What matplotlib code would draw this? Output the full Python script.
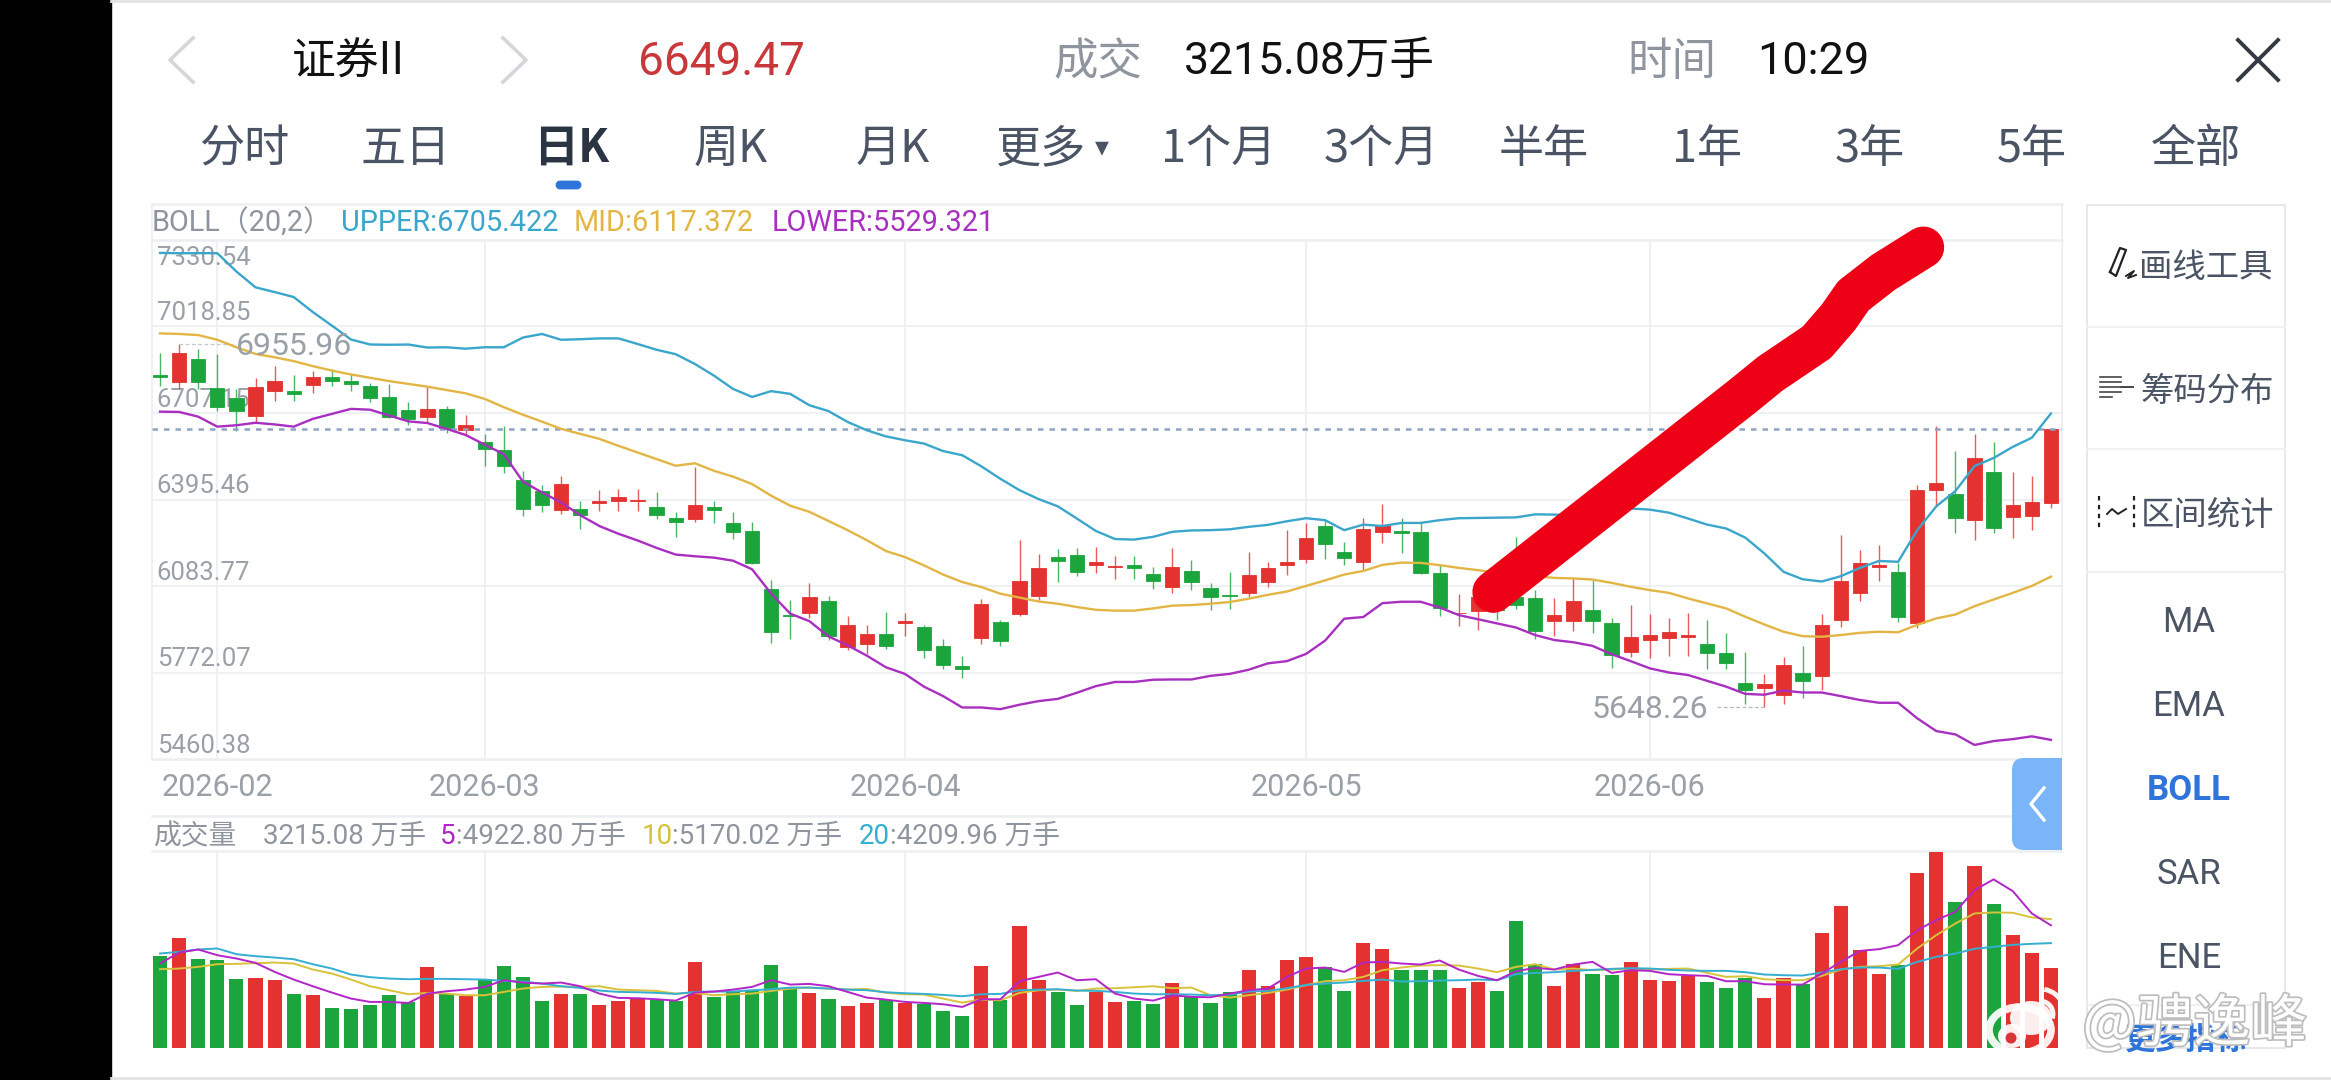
import matplotlib
matplotlib.use('Agg')
import matplotlib.pyplot as plt
import matplotlib.patheffects as pe
from matplotlib.patches import Rectangle, FancyBboxPatch, Ellipse, Arc

plt.rcParams['font.family'] = ['Noto Sans CJK SC', 'DejaVu Sans']

WIDTH, HEIGHT = 2331, 1080

# daily candles, left to right
OPEN = [6844.5, 6820, 6901, 6799, 6763, 6697, 6785, 6788, 6807, 6838,
        6822, 6804, 6766, 6719, 6693, 6723, 6647, 6602, 6575, 6466,
        6425, 6356, 6361, 6384, 6390, 6390, 6367, 6330, 6325, 6367,
        6311, 6283, 6074, 5980, 5986, 6028, 5864, 5874, 5912, 5949,
        5936, 5867, 5797, 5896, 5955, 5984, 6048, 6188, 6194, 6158,
        6151, 6161, 6128, 6079, 6137, 6078, 6050, 6060, 6099, 6160,
        6181, 6300, 6207, 6169, 6280, 6282, 6279, 6131, 5985, 5994,
        6045, 6045, 6040, 5956, 5956, 5999, 5951, 5846, 5890, 5897,
        5901, 5873, 5841, 5733, 5718, 5692, 5772, 5758, 5963, 6058,
        6154, 6133, 5951, 6429, 6417, 6323, 6495, 6332, 6336, 6383]
CLOSE = [6836, 6924, 6818, 6728, 6716, 6802, 6824, 6774, 6837, 6824,
         6810, 6763, 6694, 6686, 6722, 6652, 6664, 6578, 6515, 6361,
         6377, 6452, 6341, 6390, 6404, 6393, 6341, 6313, 6377, 6359,
         6280, 6167, 5918, 5976, 6045, 5903, 5942, 5912, 5866, 5956,
         5852, 5799, 5786, 6018, 5884, 6101, 6148, 6175, 6133, 6170,
         6155, 6149, 6101, 6152, 6099, 6043, 6046, 6123, 6150, 6169,
         6256, 6234, 6185, 6290, 6305, 6275, 6130, 6006, 5988, 6045,
         5999, 6017, 5922, 5980, 6031, 5957, 5836, 5900, 5909, 5917,
         5907, 5842, 5805, 5709, 5732, 5799, 5743, 5943, 6100, 6165,
         6158, 5973, 6431, 6455, 6327, 6546, 6293, 6375, 6388, 6649.47]
HIGH = [6924, 6955.96, 6938, 6920, 6792, 6834, 6878, 6844, 6860, 6866,
        6848, 6814, 6810, 6746, 6800, 6734, 6701, 6632, 6662, 6499,
        6449, 6481, 6389, 6431, 6433, 6433, 6421, 6349, 6514, 6391,
        6351, 6314, 6104, 6032, 6095, 6046, 5974, 5942, 5990, 5987,
        5944, 5891, 5831, 6036, 5962, 6249, 6200, 6217, 6220, 6225,
        6191, 6192, 6152, 6221, 6176, 6096, 6135, 6207, 6170, 6287,
        6309, 6321, 6243, 6330, 6379, 6327, 6315, 6159, 6054, 6070,
        6060, 6261, 6069, 6039, 6111, 6105, 5969, 6015, 5982, 5969,
        5988, 5961, 5916, 5847, 5766, 5829, 5867, 5982, 6267, 6213,
        6233, 6168, 6447, 6659, 6570, 6633, 6604, 6494, 6479, 6649.47]
LOW = [6806, 6794, 6794, 6713, 6644, 6674, 6749, 6749, 6780, 6804,
       6786, 6746, 6689, 6665, 6671, 6634, 6626, 6517, 6492, 6337,
       6349, 6343, 6290, 6353, 6355, 6355, 6325, 6262, 6313, 6309,
       6253, 6164, 5878, 5892, 5969, 5888, 5852, 5839, 5855, 5903,
       5825, 5786, 5752, 5876, 5868, 5977, 6032, 6097, 6119, 6131,
       6109, 6110, 6072, 6058, 6071, 5997, 6002, 6044, 6080, 6123,
       6168, 6181, 6160, 6140, 6238, 6203, 6126, 5975, 5939, 5925,
       5963, 6000, 5893, 5905, 5922, 5915, 5790, 5829, 5826, 5831,
       5832, 5786, 5786, 5658, 5648.26, 5658, 5679, 5709, 5937, 6029,
       6102, 5955, 5931, 6369, 6275, 6251, 6273, 6256, 6285, 6366]

# Bollinger bands
UPPER = [7284, 7283, 7283, 7283, 7217, 7160, 7143, 7125, 7071, 7022,
         6972, 6954, 6953, 6954, 6943, 6944, 6939, 6944, 6944, 6979,
         6992, 6971, 6973, 6976, 6976, 6956, 6935, 6919, 6884, 6842,
         6794, 6765, 6786, 6776, 6735, 6714, 6675, 6645, 6623, 6609,
         6597, 6570, 6555, 6515, 6470, 6429, 6397, 6371, 6327, 6282,
         6253, 6251, 6261, 6279, 6284, 6285, 6288, 6297, 6304, 6317,
         6328, 6321, 6285, 6305, 6300, 6311, 6311, 6321, 6328, 6329,
         6330, 6331, 6342, 6341, 6339, 6351, 6359, 6363, 6359, 6348,
         6327, 6305, 6291, 6258, 6201, 6135, 6108, 6100, 6119, 6149,
         6174, 6171, 6285, 6371, 6426, 6516, 6545, 6585, 6618, 6705.422]
MID = [6994, 6992, 6988, 6971, 6944, 6920, 6908, 6894, 6876, 6860,
       6846, 6834, 6822, 6812, 6802, 6790, 6778, 6758, 6728, 6701,
       6676, 6650, 6632, 6614, 6589, 6565, 6541, 6517, 6526, 6499,
       6478, 6451, 6409, 6373, 6351, 6318, 6285, 6249, 6210, 6188,
       6158, 6125, 6098, 6080, 6056, 6042, 6028, 6020, 6008, 5998,
       5995, 5995, 6003, 6013, 6015, 6020, 6026, 6038, 6052, 6064,
       6084, 6104, 6125, 6138, 6160, 6168, 6167, 6159, 6149, 6141,
       6131, 6124, 6119, 6113, 6111, 6107, 6095, 6081, 6069, 6059,
       6039, 6021, 6003, 5973, 5945, 5919, 5903, 5901, 5907, 5915,
       5919, 5917, 5944, 5967, 5981, 6011, 6035, 6059, 6084, 6117.372]
LOWER = [6712, 6711, 6694, 6658, 6663, 6672, 6666, 6658, 6686, 6704,
         6722, 6719, 6698, 6677, 6671, 6650, 6628, 6593, 6559, 6460,
         6421, 6385, 6339, 6300, 6272, 6248, 6221, 6197, 6191, 6186,
         6175, 6144, 6056, 5984, 5957, 5902, 5870, 5833, 5791, 5767,
         5721, 5687, 5646, 5646, 5640, 5656, 5669, 5677, 5699, 5723,
         5738, 5738, 5746, 5747, 5747, 5760, 5767, 5782, 5805, 5813,
         5839, 5887, 5966, 5972, 6022, 6027, 6027, 6006, 5979, 5964,
         5949, 5934, 5907, 5889, 5881, 5868, 5838, 5813, 5787, 5772,
         5763, 5742, 5721, 5695, 5692, 5707, 5700, 5700, 5687, 5673,
         5663, 5663, 5607, 5561, 5549, 5511, 5525, 5532, 5542, 5529.321]

# volume in 万手 and its moving averages
VOLUME = [3698, 4422, 3564, 3538, 2774, 2814, 2747, 2184, 2117, 1608,
          1568, 1742, 2144, 1849, 3256, 2184, 2077, 2747, 3310, 2868,
          1903, 2184, 2184, 1742, 1876, 2023, 1943, 1876, 3457, 2037,
          2251, 2318, 3323, 2385, 2211, 1983, 1675, 1796, 1943, 1809,
          1755, 1474, 1286, 3310, 1916, 4891, 2747, 2238, 1729, 2238,
          1863, 1889, 1782, 2613, 2050, 1809, 2265, 3122, 2479, 3524,
          3645, 3270, 2291, 4208, 3993, 3122, 3122, 3122, 2425, 2640,
          2278, 5079, 3390, 2506, 3363, 2961, 2921, 3471, 2747, 2693,
          2908, 2640, 2425, 2827, 2010, 2827, 2559, 4623, 5708, 3926,
          2988, 3350, 7008, 7866, 5869, 7303, 5775, 4529, 3806, 3215.08]
VOL_MA5 = [3390, 3832, 3953, 3725, 3591, 3417, 3055, 2747, 2479, 2224,
           1983, 1849, 1849, 1809, 2184, 2278, 2345, 2452, 2720, 2626,
           2586, 2626, 2479, 2184, 2010, 1997, 1956, 1903, 2224, 2265,
           2345, 2452, 2720, 2546, 2573, 2479, 2251, 2023, 1943, 1849,
           1809, 1755, 1648, 1956, 1956, 2680, 2854, 3028, 2720, 2760,
           2184, 1983, 1903, 2117, 2050, 2037, 2184, 2318, 2385, 2854,
           3189, 3229, 3055, 3430, 3457, 3390, 3350, 3511, 3149, 2894,
           2720, 3082, 3216, 3149, 3350, 3457, 3015, 3122, 3095, 2961,
           2921, 2894, 2680, 2680, 2559, 2546, 2546, 2988, 3457, 3899,
           3966, 4127, 4730, 5132, 5467, 6338, 6767, 6298, 5400, 4922.80]
VOL_MA10 = [3162, 3189, 3256, 3363, 3377, 3404, 3430, 3390, 3149, 2988,
            2747, 2479, 2318, 2157, 2211, 2184, 2117, 2117, 2251, 2385,
            2452, 2466, 2452, 2479, 2345, 2318, 2291, 2184, 2211, 2117,
            2157, 2184, 2291, 2385, 2425, 2385, 2345, 2372, 2211, 2157,
            2144, 1983, 1822, 1943, 1916, 2211, 2318, 2345, 2291, 2385,
            2399, 2439, 2479, 2399, 2425, 2117, 2023, 2117, 2211, 2345,
            2519, 2680, 2720, 2854, 3122, 3229, 3310, 3323, 3310, 3189,
            3042, 3256, 3363, 3149, 3189, 3122, 3149, 3189, 3149, 3176,
            3189, 3015, 2854, 2881, 2760, 2720, 2720, 2894, 3149, 3256,
            3283, 3350, 3993, 4529, 4998, 5400, 5440, 5427, 5239, 5170.02]
VOL_MA20 = [3792, 3859, 3953, 3993, 3765, 3685, 3631, 3564, 3363, 3189,
            2948, 2841, 2787, 2760, 2774, 2774, 2760, 2747, 2693, 2667,
            2586, 2479, 2412, 2305, 2251, 2238, 2211, 2171, 2251, 2265,
            2265, 2318, 2358, 2425, 2425, 2385, 2345, 2318, 2238, 2198,
            2171, 2131, 2077, 2157, 2171, 2318, 2345, 2358, 2305, 2291,
            2251, 2184, 2157, 2157, 2144, 2117, 2144, 2265, 2291, 2399,
            2533, 2586, 2626, 2693, 2747, 2667, 2680, 2707, 2720, 2747,
            2720, 2961, 3015, 3042, 3095, 3136, 3176, 3203, 3189, 3136,
            3109, 3095, 3095, 3042, 2948, 2921, 2908, 3028, 3162, 3229,
            3229, 3176, 3457, 3658, 3792, 3980, 4060, 4141, 4181, 4209.96]

MONTH_INDEX = [3, 17, 39, 60, 78]
MONTH_LABELS = ['2026-02', '2026-03', '2026-04', '2026-05', '2026-06']
PRICE_GRID = [7018.85, 6707.15, 6395.46, 6083.77, 5772.07]
PRICE_LABELS = ['7330.54', '7018.85', '6707.15', '6395.46', '6083.77', '5772.07', '5460.38']
PRICE_TOP, PRICE_BOTTOM = 7330.54, 5460.38
LAST_PRICE = 6649.47

# pen mark across the chart, as (bar index, price)
PEN_INDEX = [69.8, 82.9, 84.29, 86.74, 87.87, 88.66, 90.23, 92.32]
PEN_PRICE = [6062, 6770, 6848, 6962, 7052, 7130, 7214, 7304]

TABS = ['分时', '五日', '日K', '周K', '月K', '更多', '1个月', '3个月', '半年', '1年', '3年', '5年', '全部']
TAB_X = [244, 406, 571, 731, 893, 1041, 1219, 1381, 1544, 1707, 1870, 2032, 2196]
INDICATORS = ['MA', 'EMA', 'BOLL', 'SAR', 'ENE']
INDICATOR_Y = [620, 705, 789, 873, 956]

RED = '#e3322f'
GREEN = '#1ba53c'
GRID = '#eceef1'
GRAY = '#9aa0a8'
SLATE = '#4a5464'
BLUE = '#2f74d9'
C_UPPER = '#3aa6cc'
C_MID = '#e3b544'
C_LOWER = '#a92fc0'
LATIN = ['Roboto', 'Noto Sans CJK SC']


def make_axes(fig, left, top, right, bottom):
    ax = fig.add_axes([left / WIDTH, 1 - bottom / HEIGHT, (right - left) / WIDTH, (bottom - top) / HEIGHT])
    ax.set_facecolor('none')
    for side in ax.spines.values():
        side.set_visible(False)
    return ax


def pixel_axes(fig, zorder):
    # full-figure axes in pixel units for the app chrome around the chart
    ax = fig.add_axes([0, 0, 1, 1], zorder=zorder)
    ax.set_xlim(0, WIDTH)
    ax.set_ylim(HEIGHT, 0)
    ax.axis('off')
    ax.patch.set_visible(False)
    return ax


def draw_chrome(ax):
    ax.add_patch(Rectangle((0, 0), 111, HEIGHT, color='black'))
    ax.plot([111, WIDTH], [1, 1], color='#e4e4e4', lw=2)
    ax.plot([111, WIDTH], [1078, 1078], color='#e4e4e4', lw=2)

    # header row
    ax.plot([193, 170, 193], [38, 60, 82], color='#d4d6d9', lw=2.6)
    ax.plot([503, 526, 503], [38, 60, 82], color='#d4d6d9', lw=2.6)
    ax.text(348, 62, '证券II', fontsize=31.5, color='#111111', ha='center', va='center', family=LATIN[::-1])
    ax.text(721, 62, '6649.47', fontsize=33, color='#c8373a', ha='center', va='center', family=LATIN)
    ax.text(1098, 62, '成交', fontsize=32, color='#8f959e', ha='center', va='center')
    ax.text(1309, 62, '3215.08万手', fontsize=32, color='#111111', ha='center', va='center', family=LATIN)
    ax.text(1672, 62, '时间', fontsize=32, color='#8f959e', ha='center', va='center')
    ax.text(1813, 62, '10:29', fontsize=32.5, color='#111111', ha='center', va='center', family=LATIN)
    ax.plot([2238, 2278], [40, 80], color='#333a44', lw=2.8)
    ax.plot([2238, 2278], [80, 40], color='#333a44', lw=2.8)

    # period tabs
    for label, x in zip(TABS, TAB_X):
        active = label == '日K'
        ax.text(x, 149, label, fontsize=32.5, ha='center', va='center',
                color='#2b3442' if active else SLATE, fontweight='bold' if active else 'normal',
                family=['Noto Sans CJK SC', 'DejaVu Sans'])
    ax.text(1102, 147, '▾', fontsize=20, color=SLATE, ha='center', va='center', family='DejaVu Sans')
    ax.add_patch(FancyBboxPatch((557, 182), 23, 6, boxstyle='round,pad=0,rounding_size=3', color=BLUE, lw=2))

    # strips above the price and volume panes
    for y in (204, 240, 759, 816, 851):
        ax.plot([152, 2062], [y, y], color=GRID, lw=1.8)
    ax.plot([152, 152], [204, 759], color=GRID, lw=1.2)
    ax.plot([2062, 2062], [204, 759], color=GRID, lw=1.2)

    ax.text(152, 223, 'BOLL（20,2）', fontsize=20.8, color='#8f959e', va='center', family=LATIN)
    ax.text(341, 223, 'UPPER:6705.422', fontsize=20.8, color=C_UPPER, va='center', family=LATIN)
    ax.text(574, 223, 'MID:6117.372', fontsize=20.8, color=C_MID, va='center', family=LATIN)
    ax.text(772, 223, 'LOWER:5529.321', fontsize=20.8, color=C_LOWER, va='center', family=LATIN)

    ax.text(154, 836, '成交量', fontsize=20, color='#8f959e', va='center')
    ax.text(263, 836, '3215.08 万手', fontsize=20, color='#8f959e', va='center', family=LATIN)
    ax.text(440, 836, '5', fontsize=20, color='#b325c9', va='center', family=LATIN)
    ax.text(456, 836, ':4922.80 万手', fontsize=20, color='#8f959e', va='center', family=LATIN)
    ax.text(642, 836, '10', fontsize=20, color='#d9c23a', va='center', family=LATIN)
    ax.text(672, 836, ':5170.02 万手', fontsize=20, color='#8f959e', va='center', family=LATIN)
    ax.text(859, 836, '20', fontsize=20, color='#35aed1', va='center', family=LATIN)
    ax.text(890, 836, ':4209.96 万手', fontsize=20, color='#8f959e', va='center', family=LATIN)

    # tool panel on the right
    ax.add_patch(Rectangle((2087, 205), 198, 843, fill=False, edgecolor='#e6e8eb', lw=1.4))
    for y in (327, 449, 572, 1005):
        ax.plot([2087, 2285], [y, y], color='#eef0f2', lw=1.4)
    ax.text(2206, 267, '画线工具', fontsize=24, color=SLATE, ha='center', va='center')
    ax.text(2207, 392, '筹码分布', fontsize=24, color=SLATE, ha='center', va='center')
    ax.text(2208, 515, '区间统计', fontsize=24, color=SLATE, ha='center', va='center')

    # small tool icons
    ax.plot([2110, 2120, 2126, 2116, 2110], [272, 248, 250, 276, 272], color='#222222', lw=1.6)
    ax.plot([2126, 2134, 2128, 2136], [276, 271, 278, 275], color='#222222', lw=1.4)
    for y, end in ((377, 2121), (382, 2121), (387, 2133), (392, 2121), (397, 2112)):
        ax.plot([2100, end], [y, y], color='#444444', lw=1.2)
    ax.plot([2121, 2133], [387, 387], color='#444444', lw=1.2)
    ax.plot([2099, 2099], [496, 530], color='#222222', lw=1.6, ls=(0, (2, 2)))
    ax.plot([2134, 2134], [496, 530], color='#222222', lw=1.6, ls=(0, (2, 2)))
    ax.plot([2107, 2112, 2118, 2126], [514, 509, 514, 509], color='#222222', lw=1.4)

    for label, y in zip(INDICATORS, INDICATOR_Y):
        ax.text(2189, y + 2, label, fontsize=25, ha='center', va='center', family=LATIN,
                color=BLUE if label == 'BOLL' else SLATE, fontweight='bold' if label == 'BOLL' else 'normal')

    # next list entry, cut off by the bottom of the panel
    more = ax.text(2186, 1041, '更多指标', fontsize=22, color=BLUE, ha='center', va='center', fontweight='bold')
    more.set_clip_path(Rectangle((2087, 990), 198, 58, transform=ax.transData))


def draw_price_pane(ax):
    x = list(range(len(OPEN)))
    colors = [RED if c >= o else GREEN for o, c in zip(OPEN, CLOSE)]

    ax.set_xlim(-0.419, 99.58)
    ax.set_ylim(PRICE_BOTTOM, PRICE_TOP)
    ax.set_yticks(PRICE_GRID)
    ax.set_yticklabels([])
    ax.set_xticks(MONTH_INDEX)
    ax.set_xticklabels(MONTH_LABELS, fontsize=22, color=GRAY, family=LATIN)
    ax.tick_params(length=0, pad=10)
    ax.grid(True, color=GRID, lw=1.2)
    ax.set_axisbelow(True)

    # axis values sit just above their gridlines and under the candles
    trans = ax.get_yaxis_transform()
    for label in PRICE_LABELS[1:]:
        ax.annotate(label, (0, float(label)), xycoords=trans, xytext=(3.5, 9.5), textcoords='offset points',
                    fontsize=18.5, color=GRAY, va='center', family=LATIN, zorder=1)
    ax.annotate(PRICE_LABELS[0], (0, PRICE_TOP), xycoords=trans, xytext=(3.5, -13), textcoords='offset points',
                fontsize=18.5, color=GRAY, va='center', family=LATIN, zorder=1)

    ax.vlines(x, LOW, HIGH, colors=colors, lw=1.0, alpha=0.8, zorder=2)
    heights = [c - o for o, c in zip(OPEN, CLOSE)]
    ax.bar(x, heights, bottom=OPEN, width=0.75, color=colors, edgecolor=colors, lw=0.6, zorder=3)

    ax.axhline(LAST_PRICE, color='#8fa3c4', lw=1.8, ls=(0, (2.2, 2.4)), zorder=4)
    ax.plot(x, UPPER, color=C_UPPER, lw=1.7, zorder=5)
    ax.plot(x, MID, color=C_MID, lw=1.7, zorder=5)
    ax.plot(x, LOWER, color=C_LOWER, lw=1.7, zorder=5)

    # high and low markers
    ax.plot([1, 4], [6955.96, 6955.96], color='#c4c8ce', lw=0.9, ls=(0, (3, 2)), zorder=2)
    ax.annotate('6955.96', (3.95, 6955.96), xytext=(0, -2), textcoords='offset points',
                fontsize=23, color=GRAY, va='center', family=LATIN, zorder=6)
    ax.plot([81.5, 84], [5648.26, 5648.26], color='#b5b9c0', lw=0.9, ls=(0, (3, 2)), zorder=2)
    ax.annotate('5648.26', (81.05, 5648.26), xytext=(0, -2), textcoords='offset points',
                fontsize=23, color=GRAY, va='center', ha='right', family=LATIN, zorder=6)

    ax.plot(PEN_INDEX, PEN_PRICE, color='#ee0016', lw=30, solid_capstyle='round', solid_joinstyle='round',
            clip_on=False, zorder=10)


def draw_volume_pane(ax):
    x = list(range(len(VOLUME)))
    colors = [RED if c >= o else GREEN for o, c in zip(OPEN, CLOSE)]

    ax.set_xlim(-0.419, 99.58)
    ax.set_ylim(0, max(VOLUME))
    ax.set_yticks([])
    ax.set_xticks(MONTH_INDEX)
    ax.set_xticklabels([])
    ax.tick_params(length=0)
    ax.grid(True, axis='x', color=GRID, lw=1.2)
    ax.set_axisbelow(True)

    ax.bar(x, VOLUME, width=0.74, color=colors, zorder=2)
    ax.plot(x, VOL_MA10, color='#d9c23a', lw=1.4, zorder=3)
    ax.plot(x, VOL_MA20, color='#35aed1', lw=1.4, zorder=3)
    ax.plot(x, VOL_MA5, color='#b325c9', lw=1.4, zorder=4)


def draw_overlay(ax):
    # collapse tab on the right edge of the volume strip
    ax.add_patch(FancyBboxPatch((2024, 770), 50, 68, boxstyle='round,pad=12,rounding_size=12', color='#7ab5f8', lw=0))
    ax.add_patch(Rectangle((2062, 756), 24, 96, color='white', lw=0))
    ax.plot([2044, 2031, 2044], [788, 804, 820], color='white', lw=2.4)

    # weibo watermark
    ring = [pe.withStroke(linewidth=2.5, foreground='#bdbdbd')]
    ax.add_patch(Ellipse((2031, 1018), 42, 34, facecolor='white', edgecolor='none', alpha=0.92))
    ax.add_patch(Ellipse((2020, 1030), 62, 46, facecolor='none', edgecolor='white', lw=5.5, alpha=0.92))
    ax.add_patch(Ellipse((2012, 1036), 28, 24, facecolor='white', edgecolor='none', alpha=0.92))
    ax.add_patch(Ellipse((2011, 1038), 11, 11, facecolor='#d8353a', edgecolor='none'))
    for size in (26, 50):
        ax.add_patch(Arc((2040, 1014), size, size, theta1=-80, theta2=20, color='white', lw=3.5, alpha=0.95))
    ax.text(2195, 1025, '@骋逸峰', fontsize=41, color='white', ha='center', va='center', path_effects=ring)


fig = plt.figure(figsize=(WIDTH / 100, HEIGHT / 100), dpi=100, facecolor='white')

chrome = pixel_axes(fig, 0)
draw_chrome(chrome)

price_ax = make_axes(fig, 152, 240, 2062, 759)
price_ax.set_zorder(1)
draw_price_pane(price_ax)

volume_ax = make_axes(fig, 152, 852, 2062, 1048)
volume_ax.set_zorder(1)
draw_volume_pane(volume_ax)

overlay = pixel_axes(fig, 2)
draw_overlay(overlay)

fig.savefig('out.png', dpi=100, facecolor='white')
